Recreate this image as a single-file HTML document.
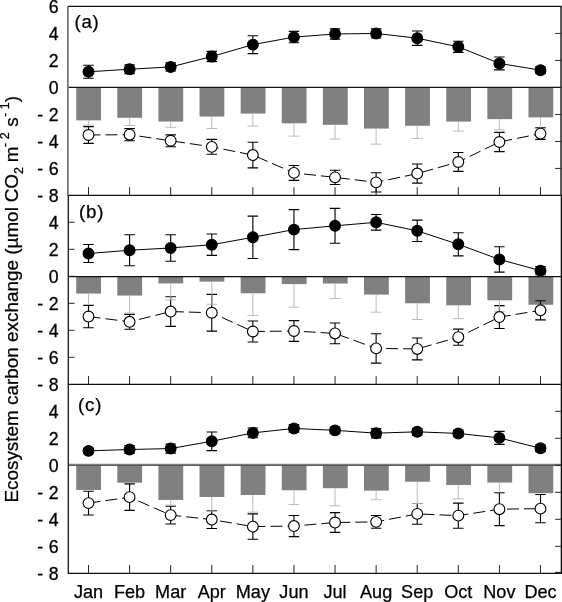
<!DOCTYPE html>
<html><head><meta charset="utf-8"><title>Ecosystem carbon exchange</title>
<style>html,body{margin:0;padding:0;background:#fff;}body{width:562px;height:602px;overflow:hidden;}svg{display:block;will-change:transform;}text{font-family:"Liberation Sans",sans-serif;fill:#000;}</style>
</head><body>
<svg width="562" height="602" viewBox="0 0 562 602">
<rect x="0" y="0" width="562" height="602" fill="#fff"/>
<!-- panel a -->
<g fill="#808080">
<rect x="76.2" y="87.45" width="24.8" height="32.9"/>
<rect x="117.31" y="87.45" width="24.8" height="30.34"/>
<rect x="158.43" y="87.45" width="24.8" height="34.12"/>
<rect x="199.54" y="87.45" width="24.8" height="29.12"/>
<rect x="240.66" y="87.45" width="24.8" height="26.15"/>
<rect x="281.78" y="87.45" width="24.8" height="35.87"/>
<rect x="322.89" y="87.45" width="24.8" height="37.36"/>
<rect x="364.01" y="87.45" width="24.8" height="41.13"/>
<rect x="405.12" y="87.45" width="24.8" height="38.3"/>
<rect x="446.24" y="87.45" width="24.8" height="34.12"/>
<rect x="487.35" y="87.45" width="24.8" height="31.69"/>
<rect x="528.47" y="87.45" width="24.8" height="29.93"/>
</g>
<polyline points="88.5,71.79 129.59,69.23 170.68,66.93 211.77,56.54 252.86,44.66 293.95,37.09 335.04,33.99 376.13,33.45 417.22,38.18 458.31,46.82 499.4,63.42 540.49,70.17" fill="none" stroke="#000" stroke-width="1.0"/>
<polyline points="88.5,134.97 129.59,134.7 170.68,140.77 211.77,146.85 252.86,155.08 293.95,172.91 335.04,177.36 376.13,182.36 417.22,173.58 458.31,161.97 499.4,141.99 540.49,133.62" fill="none" stroke="#000" stroke-width="1.0" stroke-dasharray="12 5"/>
<g stroke="#000" stroke-width="1.12" fill="none">
<path d="M88.5 126.6V143.34M83.25 126.6H93.75M83.25 143.34H93.75"/>
<path d="M129.59 128.62V140.77M124.34 128.62H134.84M124.34 140.77H134.84"/>
<path d="M170.68 134.83V146.72M165.43 134.83H175.93M165.43 146.72H175.93"/>
<path d="M211.77 139.43V154.27M206.52 139.43H217.02M206.52 154.27H217.02"/>
<path d="M252.86 142.26V167.91M247.61 142.26H258.11M247.61 167.91H258.11"/>
<path d="M293.95 165.48V180.33M288.7 165.48H299.2M288.7 180.33H299.2"/>
<path d="M335.04 170.2V184.52M329.79 170.2H340.29M329.79 184.52H340.29"/>
<path d="M376.13 172.77V191.94M370.88 172.77H381.38M370.88 191.94H381.38"/>
<path d="M417.22 163.99V183.16M411.97 163.99H422.47M411.97 183.16H422.47"/>
<path d="M458.31 152.52V171.42M453.06 152.52H463.56M453.06 171.42H463.56"/>
<path d="M499.4 132.41V151.57M494.15 132.41H504.65M494.15 151.57H504.65"/>
<path d="M540.49 127.82V139.42M535.24 127.82H545.74M535.24 139.42H545.74"/>
</g>
<g stroke="#b4b4b4" stroke-width="0.9" fill="none">
<path d="M88.5 120.35V125.25M83.1 125.25H93.9"/>
<path d="M129.59 117.79V125.52M124.19 125.52H134.99"/>
<path d="M170.68 121.57V127.27M165.28 127.27H176.08"/>
<path d="M211.77 116.57V128.49M206.37 128.49H217.17"/>
<path d="M252.86 113.6V126.06M247.46 126.06H258.26"/>
<path d="M293.95 123.32V136.18M288.55 136.18H299.35"/>
<path d="M335.04 124.81V139.02M329.64 139.02H340.44"/>
<path d="M376.13 128.58V144.15M370.73 144.15H381.53"/>
<path d="M417.22 125.75V138.48M411.82 138.48H422.62"/>
<path d="M458.31 121.57V131.06M452.91 131.06H463.71"/>
<path d="M499.4 119.14V129.84M494 129.84H504.8"/>
<path d="M540.49 117.38V128.62M535.09 128.62H545.89"/>
</g>
<g stroke="#000" stroke-width="1.12" fill="#fff">
<circle cx="88.5" cy="134.97" r="5.4"/>
<circle cx="129.59" cy="134.7" r="5.4"/>
<circle cx="170.68" cy="140.77" r="5.4"/>
<circle cx="211.77" cy="146.85" r="5.4"/>
<circle cx="252.86" cy="155.08" r="5.4"/>
<circle cx="293.95" cy="172.91" r="5.4"/>
<circle cx="335.04" cy="177.36" r="5.4"/>
<circle cx="376.13" cy="182.36" r="5.4"/>
<circle cx="417.22" cy="173.58" r="5.4"/>
<circle cx="458.31" cy="161.97" r="5.4"/>
<circle cx="499.4" cy="141.99" r="5.4"/>
<circle cx="540.49" cy="133.62" r="5.4"/>
</g>
<g stroke="#000" stroke-width="1.12" fill="none">
<path d="M88.5 65.31V78.27M83.25 65.31H93.75M83.25 78.27H93.75"/>
<path d="M129.59 64.77V73.68M124.34 64.77H134.84M124.34 73.68H134.84"/>
<path d="M170.68 62.88V70.98M165.43 62.88H175.93M165.43 70.98H175.93"/>
<path d="M211.77 51.41V61.66M206.52 51.41H217.02M206.52 61.66H217.02"/>
<path d="M252.86 35.74V53.57M247.61 35.74H258.11M247.61 53.57H258.11"/>
<path d="M293.95 31.42V42.77M288.7 31.42H299.2M288.7 42.77H299.2"/>
<path d="M335.04 28.86V39.12M329.79 28.86H340.29M329.79 39.12H340.29"/>
<path d="M376.13 28.86V38.04M370.88 28.86H381.38M370.88 38.04H381.38"/>
<path d="M417.22 31.02V45.33M411.97 31.02H422.47M411.97 45.33H422.47"/>
<path d="M458.31 41.28V52.35M453.06 41.28H463.56M453.06 52.35H463.56"/>
<path d="M499.4 56.94V69.9M494.15 56.94H504.65M494.15 69.9H504.65"/>
<path d="M540.49 66.93V73.41M535.24 66.93H545.74M535.24 73.41H545.74"/>
</g>
<g stroke="#000" stroke-width="1.12" fill="#000">
<circle cx="88.5" cy="71.79" r="5.4"/>
<circle cx="129.59" cy="69.23" r="5.4"/>
<circle cx="170.68" cy="66.93" r="5.4"/>
<circle cx="211.77" cy="56.54" r="5.4"/>
<circle cx="252.86" cy="44.66" r="5.4"/>
<circle cx="293.95" cy="37.09" r="5.4"/>
<circle cx="335.04" cy="33.99" r="5.4"/>
<circle cx="376.13" cy="33.45" r="5.4"/>
<circle cx="417.22" cy="38.18" r="5.4"/>
<circle cx="458.31" cy="46.82" r="5.4"/>
<circle cx="499.4" cy="63.42" r="5.4"/>
<circle cx="540.49" cy="70.17" r="5.4"/>
</g>
<!-- panel b -->
<g fill="#808080">
<rect x="76.2" y="276.3" width="24.8" height="17.24"/>
<rect x="117.31" y="276.3" width="24.8" height="19.26"/>
<rect x="158.43" y="276.3" width="24.8" height="7.12"/>
<rect x="199.54" y="276.3" width="24.8" height="5.36"/>
<rect x="240.66" y="276.3" width="24.8" height="16.97"/>
<rect x="281.78" y="276.3" width="24.8" height="7.79"/>
<rect x="322.89" y="276.3" width="24.8" height="7.25"/>
<rect x="364.01" y="276.3" width="24.8" height="18.32"/>
<rect x="405.12" y="276.3" width="24.8" height="26.96"/>
<rect x="446.24" y="276.3" width="24.8" height="28.98"/>
<rect x="487.35" y="276.3" width="24.8" height="23.99"/>
<rect x="528.47" y="276.3" width="24.8" height="28.44"/>
</g>
<polyline points="88.5,253.5 129.59,250.26 170.68,247.96 211.77,244.72 252.86,237.3 293.95,229.6 335.04,225.82 376.13,222.31 417.22,230.82 458.31,244.32 499.4,259.44 540.49,270.64" fill="none" stroke="#000" stroke-width="1.0"/>
<polyline points="88.5,316.54 129.59,321.81 170.68,311.55 211.77,312.76 252.86,331.53 293.95,330.99 335.04,333.42 376.13,348.4 417.22,348.94 458.31,337.19 499.4,317.08 540.49,310.33" fill="none" stroke="#000" stroke-width="1.0" stroke-dasharray="12 5"/>
<g stroke="#000" stroke-width="1.12" fill="none">
<path d="M88.5 305.33V327.75M83.25 305.33H93.75M83.25 327.75H93.75"/>
<path d="M129.59 314.38V329.23M124.34 314.38H134.84M124.34 329.23H134.84"/>
<path d="M170.68 296.69V326.4M165.43 296.69H175.93M165.43 326.4H175.93"/>
<path d="M211.77 294.4V331.12M206.52 294.4H217.02M206.52 331.12H217.02"/>
<path d="M252.86 321V342.06M247.61 321H258.11M247.61 342.06H258.11"/>
<path d="M293.95 320.59V341.38M288.7 320.59H299.2M288.7 341.38H299.2"/>
<path d="M335.04 323.02V343.81M329.79 323.02H340.29M329.79 343.81H340.29"/>
<path d="M376.13 333.69V363.12M370.88 333.69H381.38M370.88 363.12H381.38"/>
<path d="M417.22 338.01V359.88M411.97 338.01H422.47M411.97 359.88H422.47"/>
<path d="M458.31 329.09V345.3M453.06 329.09H463.56M453.06 345.3H463.56"/>
<path d="M499.4 305.61V328.56M494.15 305.61H504.65M494.15 328.56H504.65"/>
<path d="M540.49 300.75V319.92M535.24 300.75H545.74M535.24 319.92H545.74"/>
</g>
<g stroke="#b4b4b4" stroke-width="0.9" fill="none">
<path d="M88.5 293.54V304.65"/>
<path d="M129.59 295.56V313.02M124.19 313.02H134.99"/>
<path d="M170.68 283.42V299.79M165.28 299.79H176.08"/>
<path d="M211.77 281.66V304.25M206.37 304.25H217.17"/>
<path d="M252.86 293.27V315.45M247.46 315.45H258.26"/>
<path d="M293.95 284.09V307.22M288.55 307.22H299.35"/>
<path d="M335.04 283.55V298.58M329.64 298.58H340.44"/>
<path d="M376.13 294.62V312.21M370.73 312.21H381.53"/>
<path d="M417.22 303.26V319.5M411.82 319.5H422.62"/>
<path d="M458.31 305.28V318.69M452.91 318.69H463.71"/>
<path d="M499.4 300.29V311.4M494 311.4H504.8"/>
<path d="M540.49 304.75V310.05M535.09 310.05H545.89"/>
</g>
<g stroke="#000" stroke-width="1.12" fill="#fff">
<circle cx="88.5" cy="316.54" r="5.4"/>
<circle cx="129.59" cy="321.81" r="5.4"/>
<circle cx="170.68" cy="311.55" r="5.4"/>
<circle cx="211.77" cy="312.76" r="5.4"/>
<circle cx="252.86" cy="331.53" r="5.4"/>
<circle cx="293.95" cy="330.99" r="5.4"/>
<circle cx="335.04" cy="333.42" r="5.4"/>
<circle cx="376.13" cy="348.4" r="5.4"/>
<circle cx="417.22" cy="348.94" r="5.4"/>
<circle cx="458.31" cy="337.19" r="5.4"/>
<circle cx="499.4" cy="317.08" r="5.4"/>
<circle cx="540.49" cy="310.33" r="5.4"/>
</g>
<g stroke="#000" stroke-width="1.12" fill="none">
<path d="M88.5 244.45V262.54M83.25 244.45H93.75M83.25 262.54H93.75"/>
<path d="M129.59 234.73V265.78M124.34 234.73H134.84M124.34 265.78H134.84"/>
<path d="M170.68 234.73V261.19M165.43 234.73H175.93M165.43 261.19H175.93"/>
<path d="M211.77 234.06V255.39M206.52 234.06H217.02M206.52 255.39H217.02"/>
<path d="M252.86 216.1V258.49M247.61 216.1H258.11M247.61 258.49H258.11"/>
<path d="M293.95 209.62V249.58M288.7 209.62H299.2M288.7 249.58H299.2"/>
<path d="M335.04 208.41V243.24M329.79 208.41H340.29M329.79 243.24H340.29"/>
<path d="M376.13 214.48V230.14M370.88 214.48H381.38M370.88 230.14H381.38"/>
<path d="M417.22 220.15V241.48M411.97 220.15H422.47M411.97 241.48H422.47"/>
<path d="M458.31 232.71V255.93M453.06 232.71H463.56M453.06 255.93H463.56"/>
<path d="M499.4 246.75V272.13M494.15 246.75H504.65M494.15 272.13H504.65"/>
<path d="M540.49 266.59V274.69M535.24 266.59H545.74M535.24 274.69H545.74"/>
</g>
<g stroke="#000" stroke-width="1.12" fill="#000">
<circle cx="88.5" cy="253.5" r="5.4"/>
<circle cx="129.59" cy="250.26" r="5.4"/>
<circle cx="170.68" cy="247.96" r="5.4"/>
<circle cx="211.77" cy="244.72" r="5.4"/>
<circle cx="252.86" cy="237.3" r="5.4"/>
<circle cx="293.95" cy="229.6" r="5.4"/>
<circle cx="335.04" cy="225.82" r="5.4"/>
<circle cx="376.13" cy="222.31" r="5.4"/>
<circle cx="417.22" cy="230.82" r="5.4"/>
<circle cx="458.31" cy="244.32" r="5.4"/>
<circle cx="499.4" cy="259.44" r="5.4"/>
<circle cx="540.49" cy="270.64" r="5.4"/>
</g>
<!-- panel c -->
<g fill="#808080">
<rect x="76.2" y="465.3" width="24.8" height="24.67"/>
<rect x="117.31" y="465.3" width="24.8" height="17.38"/>
<rect x="158.43" y="465.3" width="24.8" height="34.65"/>
<rect x="199.54" y="465.3" width="24.8" height="31.69"/>
<rect x="240.66" y="465.3" width="24.8" height="29.66"/>
<rect x="281.78" y="465.3" width="24.8" height="24.94"/>
<rect x="322.89" y="465.3" width="24.8" height="22.91"/>
<rect x="364.01" y="465.3" width="24.8" height="25.34"/>
<rect x="405.12" y="465.3" width="24.8" height="16.43"/>
<rect x="446.24" y="465.3" width="24.8" height="19.67"/>
<rect x="487.35" y="465.3" width="24.8" height="17.24"/>
<rect x="528.47" y="465.3" width="24.8" height="27.9"/>
</g>
<polyline points="88.5,450.86 129.59,449.5 170.68,448.56 211.77,441.27 252.86,432.9 293.95,428.44 335.04,430.34 376.13,433.17 417.22,431.82 458.31,433.44 499.4,437.9 540.49,448.29" fill="none" stroke="#000" stroke-width="1.0"/>
<polyline points="88.5,503.1 129.59,497.16 170.68,515.12 211.77,519.57 252.86,526.59 293.95,526.05 335.04,522.54 376.13,521.87 417.22,513.9 458.31,515.65 499.4,509.18 540.49,508.63" fill="none" stroke="#000" stroke-width="1.0" stroke-dasharray="12 5"/>
<g stroke="#000" stroke-width="1.12" fill="none">
<path d="M88.5 491.22V514.98M83.25 491.22H93.75M83.25 514.98H93.75"/>
<path d="M129.59 483.93V510.39M124.34 483.93H134.84M124.34 510.39H134.84"/>
<path d="M170.68 506.2V524.02M165.43 506.2H175.93M165.43 524.02H175.93"/>
<path d="M211.77 510.66V528.48M206.52 510.66H217.02M206.52 528.48H217.02"/>
<path d="M252.86 513.9V539.28M247.61 513.9H258.11M247.61 539.28H258.11"/>
<path d="M293.95 515.52V536.58M288.7 515.52H299.2M288.7 536.58H299.2"/>
<path d="M335.04 512.68V532.39M329.79 512.68H340.29M329.79 532.39H340.29"/>
<path d="M376.13 515.52V528.21M370.88 515.52H381.38M370.88 528.21H381.38"/>
<path d="M417.22 503.5V524.3M411.97 503.5H422.47M411.97 524.3H422.47"/>
<path d="M458.31 503.1V528.21M453.06 503.1H463.56M453.06 528.21H463.56"/>
<path d="M499.4 492.71V525.64M494.15 492.71H504.65M494.15 525.64H504.65"/>
<path d="M540.49 494.46V522.81M535.24 494.46H545.74M535.24 522.81H545.74"/>
</g>
<g stroke="#b4b4b4" stroke-width="0.9" fill="none">
<path d="M170.68 499.95V505.12M165.28 505.12H176.08"/>
<path d="M211.77 496.99V510.93M206.37 510.93H217.17"/>
<path d="M252.86 494.96V512.14M247.46 512.14H258.26"/>
<path d="M293.95 490.24V504.59M288.55 504.59H299.35"/>
<path d="M335.04 488.21V505.8M329.64 505.8H340.44"/>
<path d="M376.13 490.64V499.73M370.73 499.73H381.53"/>
<path d="M417.22 481.73V503.5M411.82 503.5H422.62"/>
<path d="M458.31 484.97V498.92M452.91 498.92H463.71"/>
<path d="M499.4 482.54V492.7"/>
</g>
<g stroke="#000" stroke-width="1.12" fill="#fff">
<circle cx="88.5" cy="503.1" r="5.4"/>
<circle cx="129.59" cy="497.16" r="5.4"/>
<circle cx="170.68" cy="515.12" r="5.4"/>
<circle cx="211.77" cy="519.57" r="5.4"/>
<circle cx="252.86" cy="526.59" r="5.4"/>
<circle cx="293.95" cy="526.05" r="5.4"/>
<circle cx="335.04" cy="522.54" r="5.4"/>
<circle cx="376.13" cy="521.87" r="5.4"/>
<circle cx="417.22" cy="513.9" r="5.4"/>
<circle cx="458.31" cy="515.65" r="5.4"/>
<circle cx="499.4" cy="509.18" r="5.4"/>
<circle cx="540.49" cy="508.63" r="5.4"/>
</g>
<g stroke="#000" stroke-width="1.12" fill="none">
<path d="M88.5 448.16V453.56M83.25 448.16H93.75M83.25 453.56H93.75"/>
<path d="M129.59 445.46V453.56M124.34 445.46H134.84M124.34 453.56H134.84"/>
<path d="M170.68 443.97V453.15M165.43 443.97H175.93M165.43 453.15H175.93"/>
<path d="M211.77 431.96V450.59M206.52 431.96H217.02M206.52 450.59H217.02"/>
<path d="M252.86 428.04V437.76M247.61 428.04H258.11M247.61 437.76H258.11"/>
<path d="M293.95 424.67V432.23M288.7 424.67H299.2M288.7 432.23H299.2"/>
<path d="M335.04 426.96V433.71M329.79 426.96H340.29M329.79 433.71H340.29"/>
<path d="M376.13 428.44V437.9M370.88 428.44H381.38M370.88 437.9H381.38"/>
<path d="M417.22 428.44V435.19M411.97 428.44H422.47M411.97 435.19H422.47"/>
<path d="M458.31 430.06V436.81M453.06 430.06H463.56M453.06 436.81H463.56"/>
<path d="M499.4 431.42V444.38M494.15 431.42H504.65M494.15 444.38H504.65"/>
<path d="M540.49 444.92V451.67M535.24 444.92H545.74M535.24 451.67H545.74"/>
</g>
<g stroke="#000" stroke-width="1.12" fill="#000">
<circle cx="88.5" cy="450.86" r="5.4"/>
<circle cx="129.59" cy="449.5" r="5.4"/>
<circle cx="170.68" cy="448.56" r="5.4"/>
<circle cx="211.77" cy="441.27" r="5.4"/>
<circle cx="252.86" cy="432.9" r="5.4"/>
<circle cx="293.95" cy="428.44" r="5.4"/>
<circle cx="335.04" cy="430.34" r="5.4"/>
<circle cx="376.13" cy="433.17" r="5.4"/>
<circle cx="417.22" cy="431.82" r="5.4"/>
<circle cx="458.31" cy="433.44" r="5.4"/>
<circle cx="499.4" cy="437.9" r="5.4"/>
<circle cx="540.49" cy="448.29" r="5.4"/>
</g>
<g stroke="#111" stroke-width="1.25" fill="none">
<line x1="67.8" y1="6.45" x2="562" y2="6.45"/>
<line x1="67.8" y1="195.3" x2="562" y2="195.3"/>
<line x1="67.8" y1="384.3" x2="562" y2="384.3"/>
<line x1="68.4" y1="87.45" x2="561.4" y2="87.45"/>
<line x1="68.4" y1="276.5" x2="561.4" y2="276.5"/>
<line x1="68.4" y1="464.35" x2="561.4" y2="464.35" stroke="#808080" stroke-width="1.3"/>
<line x1="68.4" y1="465.45" x2="561.4" y2="465.45" stroke="#444" stroke-width="0.9"/>
<line x1="67.8" y1="573.3" x2="562" y2="573.3"/>
<line x1="561.05" y1="6.45" x2="561.05" y2="195.3" stroke="#444" stroke-width="1.8"/>
<line x1="561.4" y1="195.3" x2="561.4" y2="573.3" stroke="#111" stroke-width="1.4"/>
<line x1="555" y1="572.4" x2="561.4" y2="572.4" stroke-width="1"/>
<line x1="67.85" y1="6.45" x2="67.85" y2="195.3" stroke="#686868" stroke-width="1.6"/>
<line x1="68.3" y1="195.3" x2="68.3" y2="573.3" stroke="#1c1c1c" stroke-width="1.35"/>
</g>
<g stroke="#1c1c1c" stroke-width="0.95" fill="none">
<line x1="88.5" y1="195.45" x2="88.5" y2="187.15"/>
<line x1="129.59" y1="195.45" x2="129.59" y2="187.15"/>
<line x1="170.68" y1="195.45" x2="170.68" y2="187.15"/>
<line x1="211.77" y1="195.45" x2="211.77" y2="187.15"/>
<line x1="252.86" y1="195.45" x2="252.86" y2="187.15"/>
<line x1="293.95" y1="195.45" x2="293.95" y2="187.15"/>
<line x1="335.04" y1="195.45" x2="335.04" y2="187.15"/>
<line x1="376.13" y1="195.45" x2="376.13" y2="187.15"/>
<line x1="417.22" y1="195.45" x2="417.22" y2="187.15"/>
<line x1="458.31" y1="195.45" x2="458.31" y2="187.15"/>
<line x1="499.4" y1="195.45" x2="499.4" y2="187.15"/>
<line x1="540.49" y1="195.45" x2="540.49" y2="187.15"/>
<line x1="88.5" y1="384.3" x2="88.5" y2="376"/>
<line x1="129.59" y1="384.3" x2="129.59" y2="376"/>
<line x1="170.68" y1="384.3" x2="170.68" y2="376"/>
<line x1="211.77" y1="384.3" x2="211.77" y2="376"/>
<line x1="252.86" y1="384.3" x2="252.86" y2="376"/>
<line x1="293.95" y1="384.3" x2="293.95" y2="376"/>
<line x1="335.04" y1="384.3" x2="335.04" y2="376"/>
<line x1="376.13" y1="384.3" x2="376.13" y2="376"/>
<line x1="417.22" y1="384.3" x2="417.22" y2="376"/>
<line x1="458.31" y1="384.3" x2="458.31" y2="376"/>
<line x1="499.4" y1="384.3" x2="499.4" y2="376"/>
<line x1="540.49" y1="384.3" x2="540.49" y2="376"/>
<line x1="88.5" y1="573.3" x2="88.5" y2="565"/>
<line x1="129.59" y1="573.3" x2="129.59" y2="565"/>
<line x1="170.68" y1="573.3" x2="170.68" y2="565"/>
<line x1="211.77" y1="573.3" x2="211.77" y2="565"/>
<line x1="252.86" y1="573.3" x2="252.86" y2="565"/>
<line x1="293.95" y1="573.3" x2="293.95" y2="565"/>
<line x1="335.04" y1="573.3" x2="335.04" y2="565"/>
<line x1="376.13" y1="573.3" x2="376.13" y2="565"/>
<line x1="417.22" y1="573.3" x2="417.22" y2="565"/>
<line x1="458.31" y1="573.3" x2="458.31" y2="565"/>
<line x1="499.4" y1="573.3" x2="499.4" y2="565"/>
<line x1="540.49" y1="573.3" x2="540.49" y2="565"/>
<line x1="561.4" y1="33.45" x2="555.1" y2="33.45"/>
<line x1="561.4" y1="60.45" x2="555.1" y2="60.45"/>
<line x1="561.4" y1="87.45" x2="555.1" y2="87.45"/>
<line x1="561.4" y1="114.45" x2="555.1" y2="114.45"/>
<line x1="561.4" y1="141.45" x2="555.1" y2="141.45"/>
<line x1="561.4" y1="168.45" x2="555.1" y2="168.45"/>
<line x1="68.4" y1="222.3" x2="74.6" y2="222.3"/>
<line x1="68.4" y1="249.3" x2="74.6" y2="249.3"/>
<line x1="68.4" y1="276.3" x2="74.6" y2="276.3"/>
<line x1="68.4" y1="303.3" x2="74.6" y2="303.3"/>
<line x1="68.4" y1="330.3" x2="74.6" y2="330.3"/>
<line x1="68.4" y1="357.3" x2="74.6" y2="357.3"/>
<line x1="561.4" y1="411.3" x2="555.1" y2="411.3"/>
<line x1="561.4" y1="438.3" x2="555.1" y2="438.3"/>
<line x1="561.4" y1="465.3" x2="555.1" y2="465.3"/>
<line x1="561.4" y1="492.3" x2="555.1" y2="492.3"/>
<line x1="561.4" y1="519.3" x2="555.1" y2="519.3"/>
<line x1="561.4" y1="546.3" x2="555.1" y2="546.3"/>
</g>
<g font-size="17.7" text-anchor="end" stroke="#000" stroke-width="0.3">
<text x="58.7" y="13.45">6</text>
<text x="58.7" y="40.45">4</text>
<text x="58.7" y="67.45">2</text>
<text x="58.7" y="94.45">0</text>
<text x="58.7" y="121.45">2</text>
<text x="43.1" y="121.45">-</text>
<text x="58.7" y="148.45">4</text>
<text x="43.1" y="148.45">-</text>
<text x="58.7" y="175.45">6</text>
<text x="43.1" y="175.45">-</text>
<text x="58.7" y="229.3">4</text>
<text x="58.7" y="256.3">2</text>
<text x="58.7" y="283.3">0</text>
<text x="58.7" y="310.3">2</text>
<text x="43.1" y="310.3">-</text>
<text x="58.7" y="337.3">4</text>
<text x="43.1" y="337.3">-</text>
<text x="58.7" y="364.3">6</text>
<text x="43.1" y="364.3">-</text>
<text x="58.7" y="418.3">4</text>
<text x="58.7" y="445.3">2</text>
<text x="58.7" y="472.3">0</text>
<text x="58.7" y="499.3">2</text>
<text x="43.1" y="499.3">-</text>
<text x="58.7" y="526.3">4</text>
<text x="43.1" y="526.3">-</text>
<text x="58.7" y="553.3">6</text>
<text x="43.1" y="553.3">-</text>
<text x="58.7" y="580.3">8</text>
<text x="43.1" y="580.3">-</text>
<text x="58.7" y="202.45">8</text>
<text x="43.1" y="202.45">-</text>
<text x="58.7" y="391.3">8</text>
<text x="43.1" y="391.3">-</text>
</g>
<g font-size="18.1" text-anchor="middle" stroke="#000" stroke-width="0.25">
<text x="88.5" y="597.6">Jan</text>
<text x="129.59" y="597.6">Feb</text>
<text x="170.68" y="597.6">Mar</text>
<text x="211.77" y="597.6">Apr</text>
<text x="252.86" y="597.6">May</text>
<text x="293.95" y="597.6">Jun</text>
<text x="335.04" y="597.6">Jul</text>
<text x="376.13" y="597.6">Aug</text>
<text x="417.22" y="597.6">Sep</text>
<text x="458.31" y="597.6">Oct</text>
<text x="499.4" y="597.6">Nov</text>
<text x="540.49" y="597.6">Dec</text>
</g>
<g font-size="18.7" letter-spacing="0.8" stroke="#000" stroke-width="0.25">
<text x="74.4" y="27.7">(a)</text>
<text x="79.0" y="217.8">(b)</text>
<text x="78.0" y="411.0">(c)</text>
</g>
<text transform="translate(18.2,502.6) rotate(-90)" font-size="18.9" stroke="#000" stroke-width="0.25" xml:space="preserve">Ecosystem carbon exchange (µmol <tspan dx="-0.4">CO</tspan><tspan font-size="12.5" dy="4.8">2</tspan><tspan dy="-4.8" dx="-0.6"> m</tspan><tspan font-size="12.5" dy="-9.5" dx="-0.3">- 2</tspan><tspan dy="9.5" dx="0.45"> s</tspan><tspan font-size="12.5" dy="-9.5" dx="0.4">- 1</tspan><tspan dy="9.5" dx="0">)</tspan></text>
</svg>
</body></html>
